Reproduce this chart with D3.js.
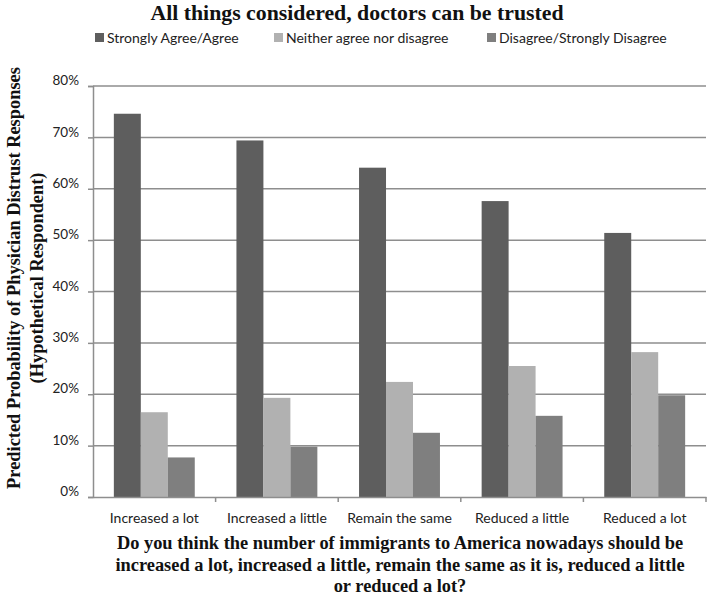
<!DOCTYPE html>
<html>
<head>
<meta charset="utf-8">
<script src="https://cdn.jsdelivr.net/npm/d3@7"></script>
<style>
  body { margin: 0; background: #fff; }
  svg { display: block; }
</style>
</head>
<body>
<script>
// categories and series
var categories = ["Increased a lot", "Increased a little", "Remain the same", "Reduced a little", "Reduced a lot"];
var seriesNames = ["Strongly Agree/Agree", "Neither agree nor disagree", "Disagree/Strongly Disagree"];
var agree = [0.746, 0.694, 0.641, 0.576, 0.514];
var neither = [0.165, 0.193, 0.224, 0.255, 0.282];
var disagree = [0.077, 0.098, 0.125, 0.158, 0.198];
var yTicks = [0, 0.1, 0.2, 0.3, 0.4, 0.5, 0.6, 0.7, 0.8];
var colors = ["#5e5e5e", "#b1b1b1", "#7f7f7f"];

var W = 708, H = 596;
var margin = {top: 86, right: 2, bottom: 99, left: 93},
    width = W - margin.left - margin.right,
    height = H - margin.top - margin.bottom;

var labelFont = "font: 14px Lato, 'Open Sans', sans-serif; fill: #222;";
var serifFont = "'Liberation Serif', 'DejaVu Serif', serif";

var svg = d3.select("body").append("svg")
    .attr("width", W)
    .attr("height", H);

var g = svg.append("g")
    .attr("transform", "translate(" + margin.left + "," + margin.top + ")");

var x0 = d3.scaleBand().domain(categories).range([0, width]).paddingInner(0.34).paddingOuter(0.17);
var x1 = d3.scaleBand().domain(seriesNames).range([0, x0.bandwidth()]);
var y = d3.scaleLinear().domain([0, 0.8]).range([height, 0]);

// gridlines
g.selectAll(".grid")
  .data(yTicks.slice(1))
  .enter().append("line")
    .attr("x1", 0).attr("x2", width)
    .attr("y1", function(d) { return y(d); })
    .attr("y2", function(d) { return y(d); })
    .attr("style", "stroke: #8e8e8e; stroke-width: 1.5px;");

// bars
var rows = categories.map(function(c, i) {
  return {cat: c, vals: [agree[i], neither[i], disagree[i]]};
});
var grp = g.selectAll(".grp")
  .data(rows)
  .enter().append("g")
    .attr("transform", function(d) { return "translate(" + x0(d.cat) + ",0)"; });
grp.selectAll("rect")
  .data(function(d) { return d.vals.map(function(v, k) { return {name: seriesNames[k], v: v, k: k}; }); })
  .enter().append("rect")
    .attr("x", function(d) { return x1(d.name); })
    .attr("width", x1.bandwidth())
    .attr("y", function(d) { return y(d.v); })
    .attr("height", function(d) { return height - y(d.v); })
    .attr("fill", function(d) { return colors[d.k]; });

// y axis
var yAxis = g.append("g")
    .call(d3.axisLeft(y).tickValues(yTicks).tickFormat(d3.format(".0%")).tickSize(5).tickPadding(9));
yAxis.select(".domain").attr("stroke", "#8e8e8e").attr("stroke-width", 1.5);
yAxis.selectAll(".tick line").attr("stroke", "#8e8e8e").attr("stroke-width", 1.5);
yAxis.selectAll("text").attr("dy", "-0.1em").attr("style", "font: 13.5px Lato, 'Open Sans', sans-serif; fill: #222;");

// x axis
var xAxis = g.append("g")
    .attr("transform", "translate(0," + height + ")")
    .call(d3.axisBottom(x0).tickSize(0).tickPadding(16));
xAxis.select(".domain").attr("stroke", "#8e8e8e").attr("stroke-width", 1.5);
xAxis.selectAll("text").attr("style", labelFont);
// category separators
g.selectAll(".sep")
  .data(d3.range(1, categories.length + 1))
  .enter().append("line")
    .attr("x1", function(d) { return d * width / categories.length; })
    .attr("x2", function(d) { return d * width / categories.length; })
    .attr("y1", height).attr("y2", height + 5)
    .attr("style", "stroke: #8e8e8e; stroke-width: 1.5px;");

// title
svg.append("text")
  .attr("x", 357).attr("y", 20)
  .attr("text-anchor", "middle")
  .attr("style", "font: bold 21.8px " + serifFont + "; fill: #111;")
  .text("All things considered, doctors can be trusted");

// legend
var legX = [95, 274, 487];
var leg = svg.selectAll(".leg")
  .data(seriesNames)
  .enter().append("g")
    .attr("transform", function(d, i) { return "translate(" + legX[i] + ",38)"; });
leg.append("rect")
  .attr("x", 0).attr("y", -5).attr("width", 9).attr("height", 9)
  .attr("fill", function(d, i) { return colors[i]; });
leg.append("text")
  .attr("x", 12).attr("dy", "0.35em")
  .attr("style", labelFont)
  .text(function(d) { return d; });

// y title
var yt = svg.append("text")
  .attr("transform", "translate(0,278) rotate(-90)")
  .attr("text-anchor", "middle")
  .attr("style", "font: bold 18.4px " + serifFont + "; fill: #111;");
yt.append("tspan").attr("x", 0).attr("y", 20).text("Predicted Probability of Physician Distrust Responses");
yt.append("tspan").attr("x", 0).attr("y", 43).text("(Hypothetical Respondent)");

// x title
var xtLines = [
  "Do you think the number of immigrants to America nowadays should be",
  "increased a lot, increased a little, remain the same as it is, reduced a little",
  "or reduced a lot?"
];
svg.append("g").selectAll("text")
  .data(xtLines)
  .enter().append("text")
    .attr("x", 400)
    .attr("y", function(d, i) { return 549 + i * 21.5; })
    .attr("text-anchor", "middle")
    .attr("style", "font: bold 18.4px " + serifFont + "; fill: #111;")
    .text(function(d) { return d; });
</script>
</body>
</html>
